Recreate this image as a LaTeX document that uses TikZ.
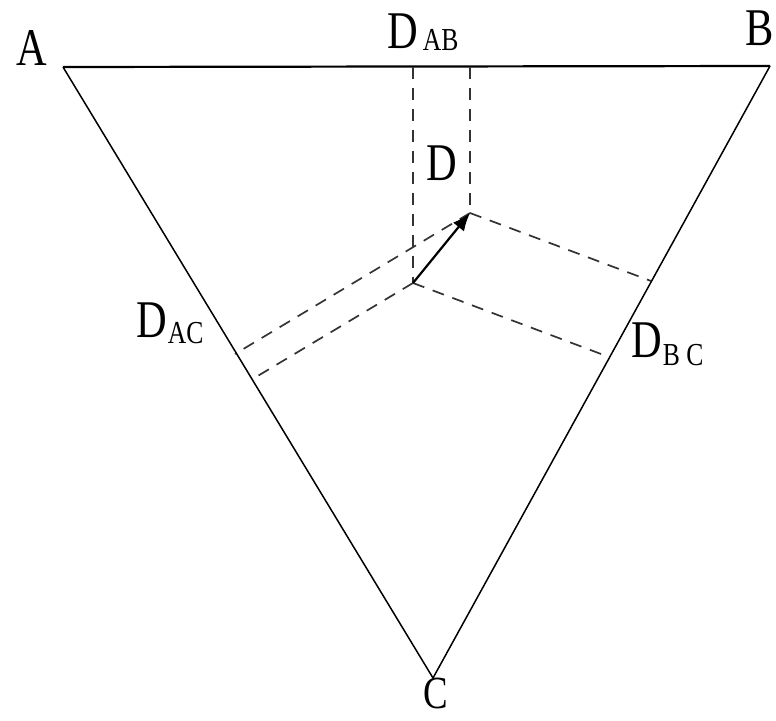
\documentclass[tikz,border=0pt]{standalone}
\usepackage{fontspec}
\newfontfamily\labfont[FakeStretch=0.8]{Liberation Serif}
\usetikzlibrary{arrows.meta}
\newcommand\dlab[3]{D\hspace{#2}\raisebox{#3}{\fontsize{32}{34}\selectfont #1}}
\begin{document}
\begin{tikzpicture}[x=1pt,y=-1pt,
  edge/.style={line width=1.5pt, black},
  topedge/.style={line width=2.2pt, black},
  proj/.style={line width=1.7pt, black!80, dash pattern=on 12pt off 9pt},
  lab/.style={inner sep=0pt, anchor=base west, font=\labfont\fontsize{53}{60}\selectfont},
  vec/.style={line width=2.2pt, -{Latex[length=18pt,width=14pt]}}]
\useasboundingbox (0,0) rectangle (776,720);
% vertices and points
\coordinate (A) at (63,67);
\coordinate (B) at (770,66);
\coordinate (C) at (433,678);
\coordinate (D1) at (413,283);
\coordinate (D2) at (470,213);
\coordinate (P1) at (413,66.6);
\coordinate (P2) at (470,66.5);
\coordinate (Q1) at (251,380);
\coordinate (Q2) at (235,354);
\coordinate (R1) at (609,357);
\coordinate (R2) at (651,281);
% triangle
\draw[topedge] (A) -- (B);
\draw[edge] (B) -- (C) -- (A);
% projections
\draw[proj] (P1) -- (D1);
\draw[proj] (P2) -- (D2);
\draw[proj] (D2) -- (Q2);
\draw[proj] (D1) -- (Q1);
\draw[proj] (D2) -- (R2);
\draw[proj] (D1) -- (R1);
% vector
\draw[vec] (D1) -- (D2);
% labels
\node[lab] (lA) at (16,65) {A};
\node[lab] (lB) at (745,45) {B};
\node[lab, font=\labfont\fontsize{46}{50}\selectfont] (lC) at (423,708) {C};
\node[lab] (lD) at (426,180) {D};
\node[lab] (lDAB) at (387,48) {\dlab{AB}{5pt}{-2pt}};
\node[lab] (lDAC) at (136,337) {\dlab{AC}{1pt}{-6pt}};
\node[lab] (lDBC) at (631,357) {\dlab{B C}{1pt}{-8pt}};
\end{tikzpicture}
\end{document}
